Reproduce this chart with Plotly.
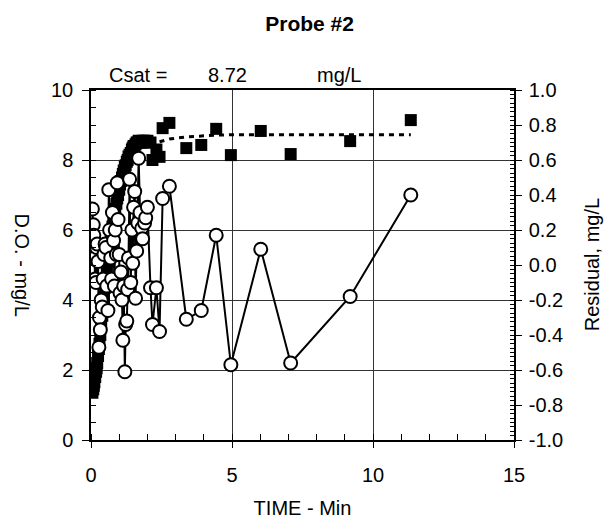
import plotly.graph_objects as go

# D.O. measurements (mg/L) vs time (min)
time_do = [0.05, 0.08, 0.10, 0.12, 0.15, 0.18, 0.20, 0.22, 0.25, 0.28, 0.30, 0.33, 0.36, 0.40,
           0.43, 0.46, 0.50, 0.53, 0.56, 0.60, 0.63, 0.66, 0.70, 0.73, 0.76, 0.80, 0.83, 0.86,
           0.90, 0.93, 0.96, 1.00, 1.03, 1.06, 1.10, 1.13, 1.16, 1.20, 1.23, 1.27, 1.30, 1.33,
           1.37, 1.41, 1.45, 1.48, 1.51, 1.55, 1.58, 1.62, 1.66, 1.69, 1.74, 1.80, 1.83, 1.90,
           1.94, 2.00, 2.11, 2.18, 2.32, 2.43, 2.54, 2.78, 3.38, 3.91, 4.44, 4.96, 6.02, 7.08,
           9.19, 11.34]
do_vals = [1.35, 1.45, 1.55, 1.65, 1.80, 1.95, 2.05, 2.20, 2.40, 2.60, 2.75, 3.00, 3.25, 3.55,
           3.80, 4.05, 4.35, 4.60, 4.80, 5.10, 5.30, 5.50, 5.75, 5.95, 6.10, 6.30, 6.45, 6.60,
           6.75, 6.90, 7.00, 7.15, 7.30, 7.40, 7.50, 7.60, 7.70, 7.80, 7.85, 7.95, 8.00, 8.10,
           8.15, 8.20, 8.30, 8.35, 8.40, 8.40, 8.45, 8.50, 8.50, 8.55, 8.50, 8.50, 8.55, 8.55,
           8.50, 8.55, 8.50, 8.00, 8.30, 8.09, 8.91, 9.06, 8.34, 8.43, 8.89, 8.14, 8.83, 8.17,
           8.54, 9.14]

# Model fit (dotted)
time_fit = [2.43, 2.54, 2.78, 3.38, 3.91, 4.44, 4.96, 6.02, 7.08, 9.19, 11.34]
fit_vals = [8.52, 8.54, 8.60, 8.66, 8.69, 8.71, 8.72, 8.72, 8.72, 8.72, 8.72]

# Residuals (mg/L)
resid = [0.32, 0.23, 0.17, 0.04, -0.08, -0.10, 0.10, 0.12, 0.02, -0.47, -0.30, -0.37, -0.20, -0.24,
         -0.08, 0.06, 0.12, 0.10, -0.12, -0.26, 0.43, 0.20, 0.04, -0.08, 0.30, 0.14, -0.12, 0.20,
         0.06, 0.47, 0.26, 0.06, -0.16, -0.04, -0.20, -0.43, -0.12, -0.61, -0.34, -0.32, -0.14, 0.04,
         0.49, -0.10, 0.20, 0.01, 0.33, 0.42, -0.19, 0.08, 0.24, 0.61, 0.30, 0.21, 0.15, 0.24,
         0.27, 0.33, -0.13, -0.34, -0.13, -0.38, 0.38, 0.45, -0.31, -0.26, 0.17, -0.57, 0.09, -0.56,
         -0.18, 0.40]

# Tick labels
x_ticks = [0, 5, 10, 15]
y_ticks = [0, 2, 4, 6, 8, 10]
y2_ticks = [-1.0, -0.8, -0.6, -0.4, -0.2, 0.0, 0.2, 0.4, 0.6, 0.8, 1.0]
y2_labels = ["-1.0", "-0.8", "-0.6", "-0.4", "-0.2", "0.0", "0.2", "0.4", "0.6", "0.8", "1.0"]

csat_text = ["Csat =", "8.72", "mg/L"]
csat_x = [1.65, 4.85, 8.8]

FONT = "Arial, Liberation Sans, sans-serif"
FS = 20

fig = go.Figure()
fig.add_trace(go.Scatter(x=time_fit, y=fit_vals, mode="lines",
                         line=dict(color="black", width=3, dash="5px,5px"), yaxis="y"))
fig.add_trace(go.Scatter(x=time_do, y=do_vals, mode="markers",
                         marker=dict(symbol="square", size=12, color="black"), yaxis="y"))
fig.add_trace(go.Scatter(x=time_do, y=resid, mode="lines+markers",
                         line=dict(color="black", width=2),
                         marker=dict(symbol="circle", size=13, color="white",
                                     line=dict(color="black", width=2)),
                         yaxis="y2"))

for t, xv in zip(csat_text, csat_x):
    fig.add_annotation(x=xv, y=1.043, xref="x", yref="paper", text=t, showarrow=False,
                       yanchor="middle", xanchor="center",
                       font=dict(family=FONT, size=FS, color="black"))

fig.add_annotation(x=-0.162, y=0.5, xref="paper", yref="paper", text="D.O. - mg/L",
                   textangle=90, showarrow=False, xanchor="center", yanchor="middle",
                   font=dict(family=FONT, size=FS, color="black"))
fig.add_annotation(x=1.185, y=0.5, xref="paper", yref="paper", text="Residual, mg/L",
                   textangle=-90, showarrow=False, xanchor="center", yanchor="middle",
                   font=dict(family=FONT, size=FS, color="black"))

axis_common = dict(showline=True, linecolor="black", linewidth=1.5,
                   tickfont=dict(family=FONT, size=FS, color="black"),
                   zeroline=False, ticks="outside", tickcolor="black")

fig.update_layout(
    width=613, height=529,
    margin=dict(l=91, r=99, t=90, b=89),
    paper_bgcolor="white", plot_bgcolor="white",
    showlegend=False,
    title=dict(text="<b>Probe #2</b>", x=0.505, xanchor="center", y=0.955, yanchor="middle",
               font=dict(family=FONT, size=21, color="black")),
    xaxis=dict(range=[0, 15], tickvals=x_ticks, ticklen=6, mirror=True, ticklabelstandoff=10,
               showgrid=True, gridcolor="#333", gridwidth=1,
               minor=dict(dtick=1, ticks="inside", ticklen=6, tickcolor="black", showgrid=False),
               title=dict(text="TIME - Min", font=dict(family=FONT, size=FS, color="black"),
                          standoff=16),
               **axis_common),
    yaxis=dict(range=[0, 10], tickvals=y_ticks, ticklen=7, ticklabelstandoff=5,
               showgrid=True, gridcolor="#333", gridwidth=1,
               minor=dict(dtick=0.5, ticks="inside", ticklen=5, tickcolor="black", showgrid=False),
               **axis_common),
    yaxis2=dict(range=[-1, 1], tickvals=y2_ticks, ticktext=y2_labels, ticklen=6,
                overlaying="y", side="right", showgrid=False, ticklabelstandoff=3,
                minor=dict(dtick=0.025, ticks="inside", ticklen=4, tickcolor="black", showgrid=False),
                **axis_common),
)

fig.write_html("out.html")
